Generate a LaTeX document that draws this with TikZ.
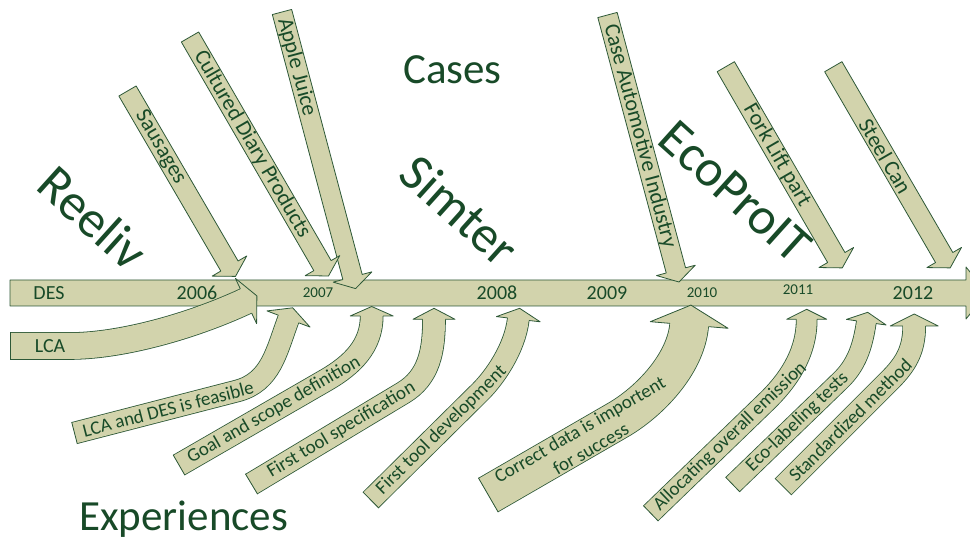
\documentclass[tikz,border=0pt]{standalone}
\usepackage{fontspec}
\setmainfont{Carlito}
\usetikzlibrary{calc}
\definecolor{boxfill}{RGB}{210,211,172}
\definecolor{boxedge}{RGB}{45,88,55}
\definecolor{ink}{RGB}{24,74,40}
\tikzset{
  rim/.style={draw=boxedge,line width=0.8pt,line join=round},
  casebox/.style={rim,fill=boxfill},
  expshaft/.style={draw=boxedge,line width=0.8pt,double=boxfill,line join=round},
  boxlabel/.style={text=ink,font=\fontsize{22}{25}\selectfont,inner sep=0pt},
  explabel/.style={text=ink,font=\fontsize{19}{22}\selectfont,inner sep=0pt,align=center},
  yearlabel/.style={text=ink,font=\fontsize{#1}{#1}\selectfont,inner sep=0pt},
  project/.style={text=ink,font=\fontsize{52}{60}\selectfont,rotate=-42,inner sep=0pt},
  heading/.style={text=ink,font=\fontsize{43}{50}\selectfont,anchor=base west,inner sep=0pt}
}
\newcommand\blockarrow[4]{%
  \coordinate (#1-h) at ($(#1-p)!#4pt!(#1-t)$);
  \filldraw[casebox] ($(#1-t)!#2pt!90:(#1-p)$) -- ($(#1-h)!#2pt!90:(#1-p)$) -- ($(#1-h)!#3pt!90:(#1-p)$)
    -- (#1-p) -- ($(#1-h)!#3pt!-90:(#1-p)$) -- ($(#1-h)!#2pt!-90:(#1-p)$) -- ($(#1-t)!#2pt!-90:(#1-p)$) -- cycle;}
\newcommand\bentarrow[3]{%
  \draw[expshaft,double distance=#2pt] (#1-t) -- (#1-s) .. controls (#1-c) and (#1-d) .. (#1-h) -- ($(#1-h)!1pt!(#1-p)$);
  \draw[rim] ($(#1-t)!#2pt/2+0.8pt!90:(#1-s)$) -- ($(#1-t)!#2pt/2+0.8pt!-90:(#1-s)$);
  \fill[boxfill] ($(#1-h)!#3pt/2!90:(#1-p)$) -- (#1-p) -- ($(#1-h)!#3pt/2!-90:(#1-p)$) -- cycle;
  \draw[rim] ($(#1-h)!#2pt/2+0.4pt!90:(#1-p)$) -- ($(#1-h)!#3pt/2!90:(#1-p)$) -- (#1-p)
    -- ($(#1-h)!#3pt/2!-90:(#1-p)$) -- ($(#1-h)!#2pt/2+0.4pt!-90:(#1-p)$);}

\begin{document}
\begin{tikzpicture}[x=1pt,y=-1pt]
\useasboundingbox (0,0) rectangle (970,537);
\clip (0,0) rectangle (970,537);

\coordinate (line-t) at (10,293);
\coordinate (line-p) at (987,293);
\blockarrow{line}{13}{26}{21}

\foreach \n/\ta/\tb/\txt/\where in {
  apple/{282,12}/{355.6,288.6}/Apple Juice/.2,
  cult/{190,37}/{328.5,276}/Cultured Diary Products/.449,
  saus/{127.5,91}/{235.5,276.4}/Sausages/.304,
  case/{607.5,15}/{679,282}/Case Automotive Industry/.453,
  fork/{725.8,66.7}/{842.3,267.9}/Fork Lift part/.44,
  steel/{833.3,66.7}/{950.2,267.9}/Steel Can/.445}{
  \coordinate (\n-t) at (\ta);
  \coordinate (\n-p) at (\tb);
  \blockarrow{\n}{10}{20}{12}
  \path (\n-t) -- (\n-p) node[pos=\where,sloped,boxlabel] (\n-l) {\txt};
}

\foreach \n/\ct/\cs/\cc/\cd/\ch/\cp/\w/\hw in {
  lca/{10,346}/{70,346}/{120,346}/{190,327}/{246,301}/{256.9,295.9}/26/50,
  feas/{74.5,433}/{237,391}/{270.9,382.2}/{276.3,351.8}/{288.5,319}/{292.7,307.8}/21/46,
  goal/{179,465}/{326.2,380}/{352,365}/{371.7,346}/{371.7,316}/{371.7,306.5}/22/43,
  spec/{251.5,484}/{403.2,392.8}/{428.9,377.4}/{434,351.3}/{434,319.3}/{434,308.3}/22/42,
  dev/{370.8,500}/{480,392}/{494.2,378}/{514.8,349}/{518.3,319.2}/{519.6,308.3}/21/44,
  data/{488.3,495}/{618,420}/{648.3,402.5}/{685.7,364.8}/{689.2,325}/{690.9,305.1}/38/78,
  alloc/{650.8,513.3}/{765.9,402.1}/{787.5,381.3}/{806.7,354.3}/{806.7,319.3}/{806.7,309.3}/20/40,
  eco/{732.7,484.5}/{840.6,380.3}/{856.4,365}/{862.7,347}/{866.3,322.2}/{867.7,312.3}/19/40,
  std/{783.3,486.7}/{889.4,380.6}/{905,365}/{914.2,351}/{914.2,326}/{914.2,314}/22/48}{
  \coordinate (\n-t) at (\ct);
  \coordinate (\n-s) at (\cs);
  \coordinate (\n-c) at (\cc);
  \coordinate (\n-d) at (\cd);
  \coordinate (\n-h) at (\ch);
  \coordinate (\n-p) at (\cp);
  \bentarrow{\n}{\w}{\hw}
}

\path (lca-t) -- (lca-s) node[pos=.667,yearlabel=20] (lca-l) {LCA};
\path (feas-t) -- (feas-s) node[pos=.576,sloped,explabel] (feas-l) {LCA and DES is feasible};
\path (goal-t) -- (goal-s) node[pos=.645,sloped,explabel] (goal-l) {Goal and scope definition};
\path (spec-t) -- (spec-s) node[pos=.593,sloped,explabel] (spec-l) {First tool specification};
\path (dev-t) -- (dev-s) node[pos=.647,sloped,explabel] (dev-l) {First tool development};
\path (data-t) -- (data-s) node[pos=.747,sloped,explabel] (data-l) {Correct data is importent\\for success};
\path (alloc-t) -- (alloc-s) node[pos=.69,sloped,explabel] (alloc-l) {Allocating overall emission};
\path (eco-t) -- (eco-s) node[pos=.6,sloped,explabel] (eco-l) {Eco-labeling tests};
\path (std-t) -- (std-s) node[pos=.63,sloped,explabel] (std-l) {Standardized method};

\foreach \x/\y/\yr/\sz in {49/293/DES/20, 197/293/2006/20, 318/293/2007/15, 497/293/2008/20,
  607/293/2009/20, 702/293/2010/15, 798/290/2011/15, 913/293/2012/20}
  \node[yearlabel=\sz] (yr\yr) at (\x,\y) {\yr};

\node[project] (reeliv) at (93,218) {Reeliv};
\node[project] (simter) at (460,210) {Simter};
\node[project] (ecoproit) at (735,192) {EcoProIT};
\node[heading] (cases) at (403,84) {Cases};
\node[heading] (experiences) at (79,530) {Experiences};
\end{tikzpicture}
\end{document}
